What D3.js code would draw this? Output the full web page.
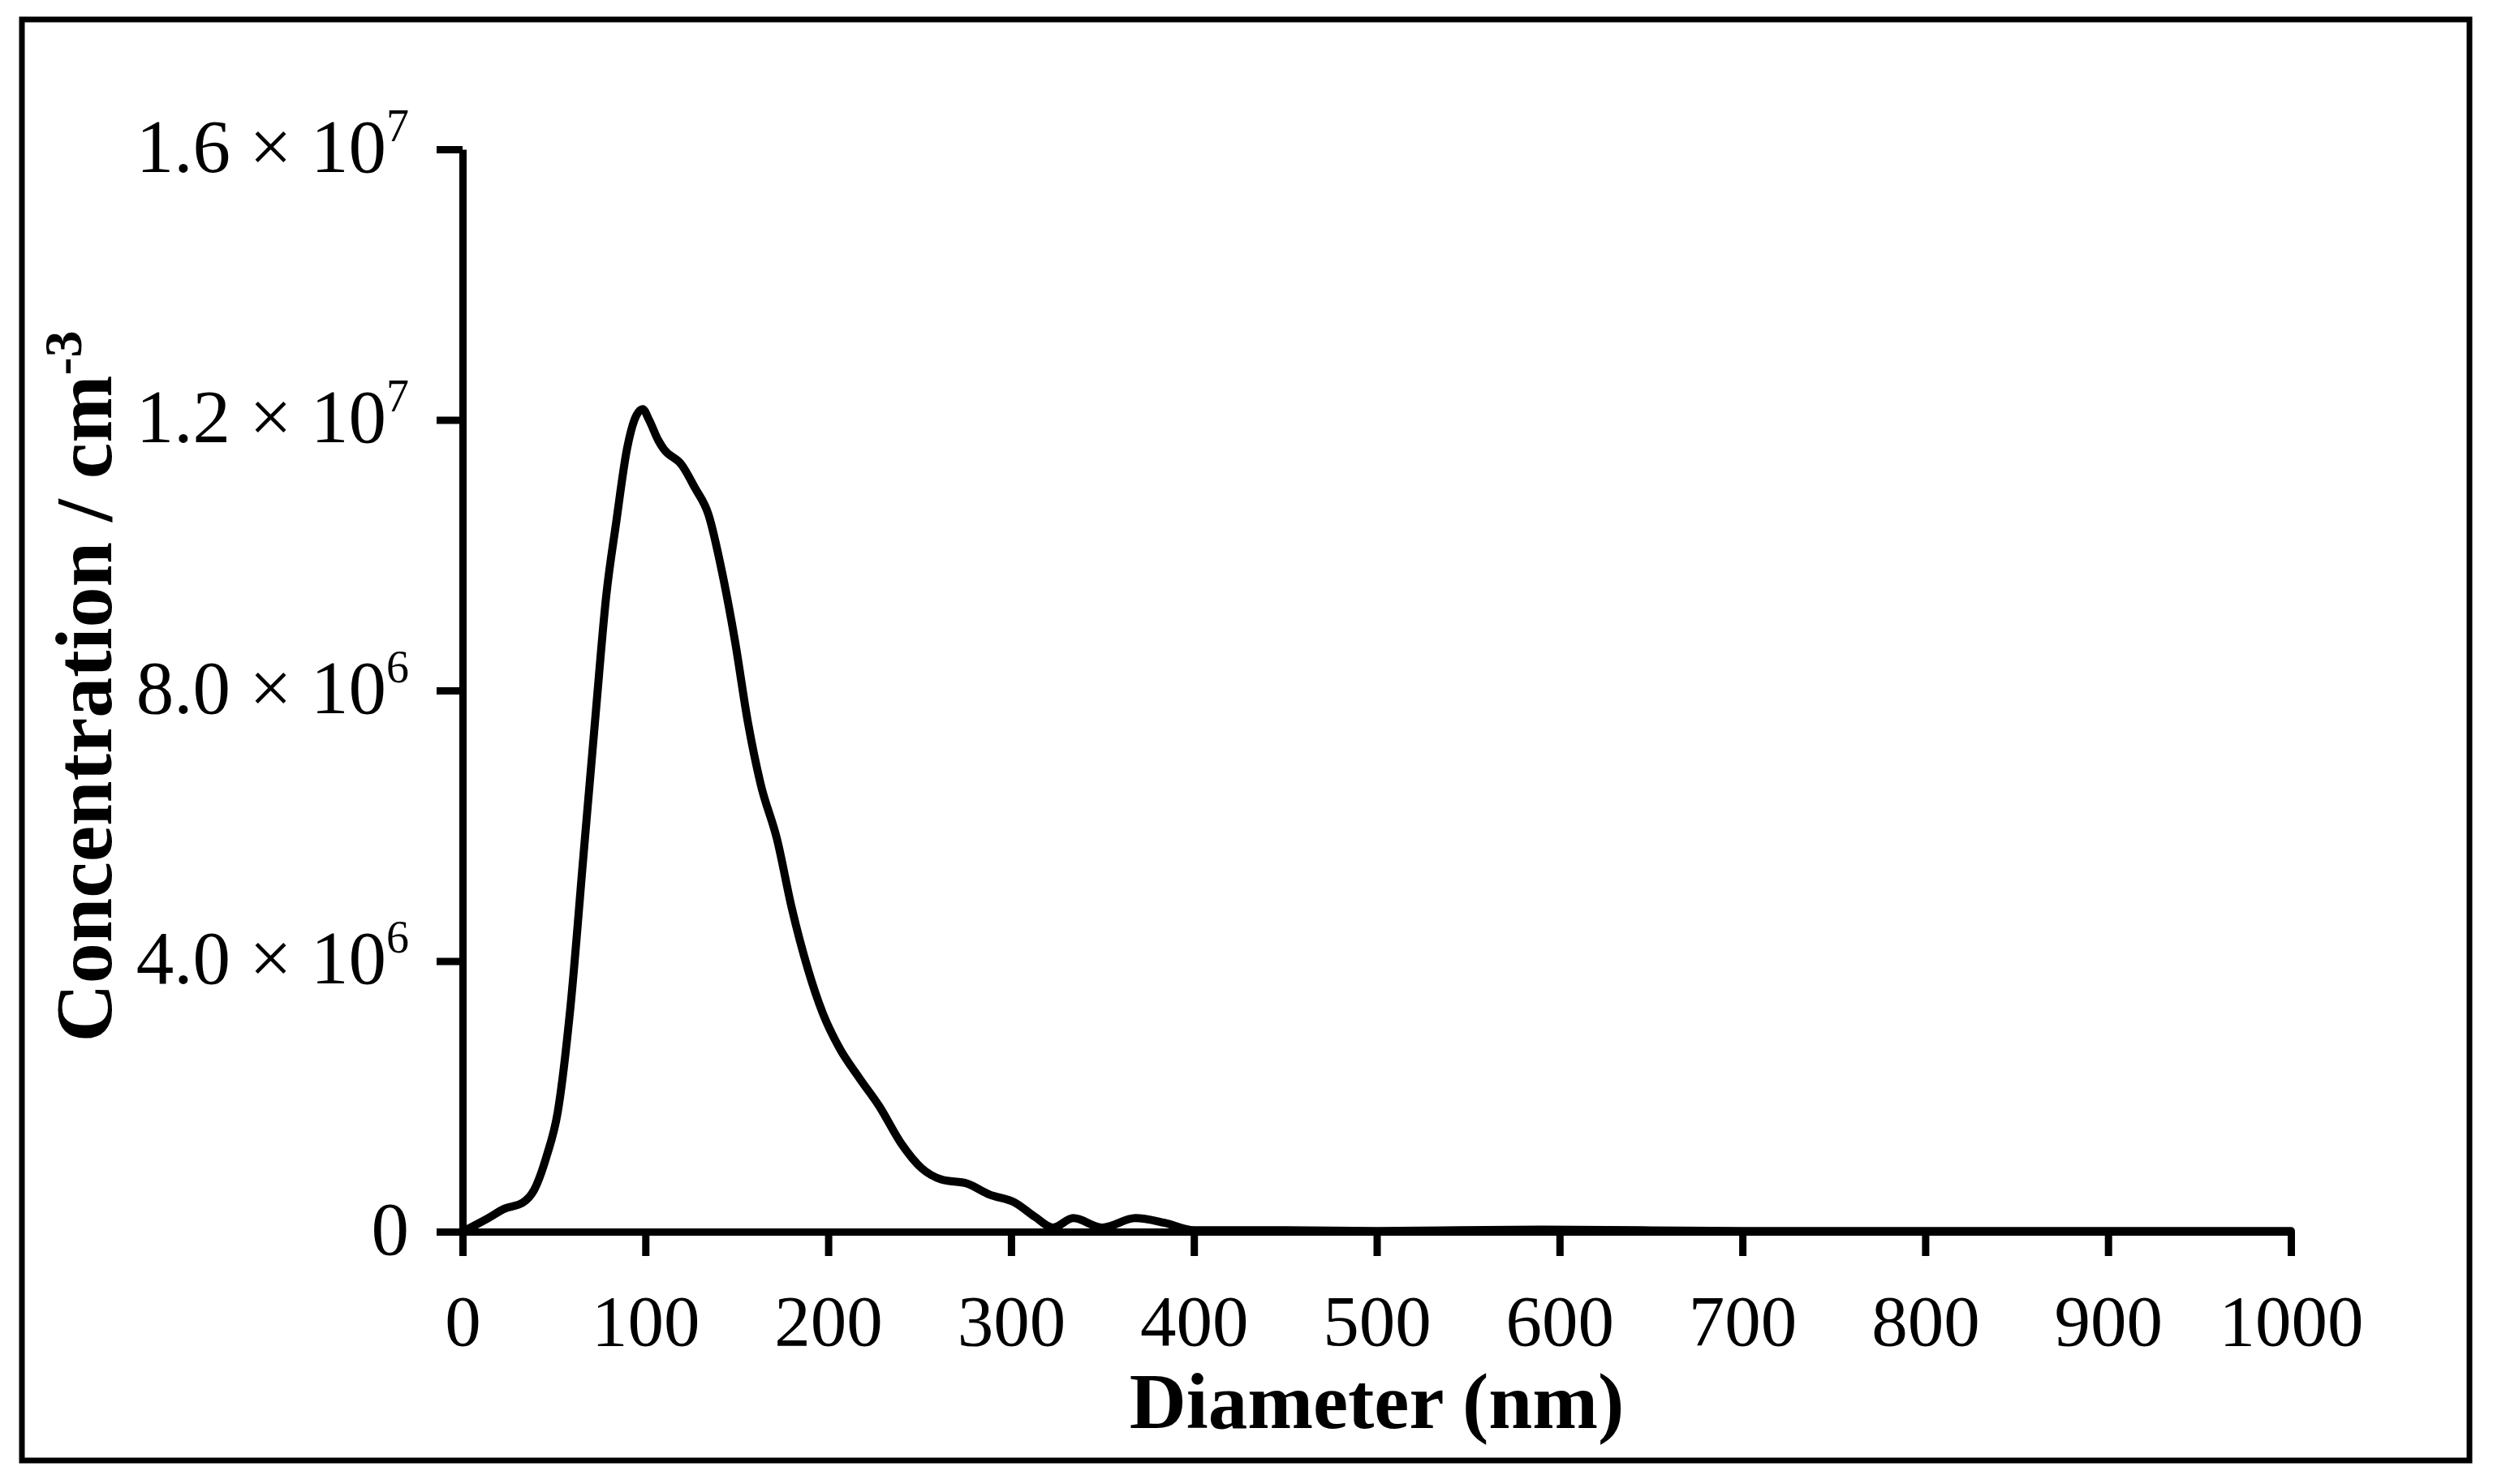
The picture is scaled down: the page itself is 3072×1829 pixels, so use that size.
<!DOCTYPE html>
<html lang="en">
<head>
  <meta charset="UTF-8">
  <title>Particle size distribution</title>
  <style>
    body { margin: 0; background: #fff; }
    .tick text { font-family: "Liberation Serif", "Times New Roman", serif; fill: #000; }
    .title { font-family: "Liberation Serif", "Times New Roman", serif; font-weight: bold; fill: #000; }
  </style>
</head>
<body>
  <div class="canvas"></div>
  <script src="https://d3js.org/d3.v7.min.js"></script>
  <script>
    // diameter (nm) and concentration (cm^-3)
    const diameter = [0, 14, 23, 33, 39, 46, 52, 59, 66, 73, 78.5, 84, 90, 94, 98.5, 102, 107, 110, 120, 127, 134.5, 142, 149, 156, 163, 172, 180, 189, 197, 206, 217, 228, 240, 251, 262, 276, 288, 302, 313, 323, 334, 350, 368, 384, 400, 450, 500, 590, 700, 800, 900, 1000];
    const concentration = [0, 0.20e6, 0.34e6, 0.43e6, 0.61e6, 1.12e6, 1.76e6, 3.32e6, 5.52e6, 7.72e6, 9.38e6, 10.48e6, 11.58e6, 12.0e6, 12.16e6, 12.0e6, 11.7e6, 11.57e6, 11.33e6, 11.0e6, 10.6e6, 9.74e6, 8.73e6, 7.54e6, 6.62e6, 5.80e6, 4.79e6, 3.87e6, 3.23e6, 2.72e6, 2.27e6, 1.85e6, 1.30e6, 0.94e6, 0.77e6, 0.71e6, 0.55e6, 0.43e6, 0.22e6, 0.06e6, 0.20e6, 0.06e6, 0.20e6, 0.13e6, 0.02e6, 0.02e6, 0.01e6, 0.03e6, 0.01e6, 0.01e6, 0.01e6, 0.01e6];

    const xTicks = [0, 100, 200, 300, 400, 500, 600, 700, 800, 900, 1000];
    const yTicks = [0, 4e6, 8e6, 1.2e7, 1.6e7];
    // mantissa / exponent pairs for the y tick labels
    const yMantissa = ['0', '4.0 × 10', '8.0 × 10', '1.2 × 10', '1.6 × 10'];
    const yExponent = ['', '6', '6', '7', '7'];

    const width = 3072;
    const height = 1829;
    const margin = {'top': 184, 'right': 249, 'bottom': 311, 'left': 570};
    const graphWidth = width - margin.left - margin.right;
    const graphHeight = height - margin.top - margin.bottom;

    const svg = d3.select('.canvas')
      .append('svg')
      .attr('width', width)
      .attr('height', height);

    svg.append('rect')
      .attr('x', 27).attr('y', 24)
      .attr('width', 3016).attr('height', 1776)
      .attr('fill', '#fff')
      .attr('stroke', '#000')
      .attr('stroke-width', 7);

    const graph = svg.append('g')
      .attr('transform', `translate(${margin.left}, ${margin.top})`);

    const x = d3.scaleLinear().domain([0, 1000]).range([0, graphWidth]);
    const y = d3.scaleLinear().domain([0, 1.6e7]).range([graphHeight, 0]);

    const xAxis = d3.axisBottom(x)
      .tickValues(xTicks)
      .tickSize(30)
      .tickSizeOuter(0)
      .tickFormat(d3.format('d'));

    const yAxis = d3.axisLeft(y)
      .tickValues(yTicks)
      .tickSize(32)
      .tickSizeOuter(0)
      .tickPadding(34)
      .tickFormat('');

    const gXAxis = graph.append('g')
      .attr('transform', `translate(0, ${graphHeight})`)
      .call(xAxis);

    const gYAxis = graph.append('g').call(yAxis);

    [gXAxis, gYAxis].forEach(g => {
      g.select('.domain').attr('stroke', '#000').attr('stroke-width', 9);
      g.selectAll('.tick line').attr('stroke', '#000').attr('stroke-width', 9);
    });

    gXAxis.selectAll('text')
      .attr('y', 140)
      .attr('dy', 0)
      .style('font-size', '89px');

    gYAxis.selectAll('.tick text')
      .attr('dy', 27)
      .style('font-size', '93px')
      .each(function (d, i) {
        const t = d3.select(this);
        t.append('tspan').text(yMantissa[i]);
        if (yExponent[i]) {
          t.append('tspan')
            .attr('dy', -38)
            .style('font-size', '56px')
            .text(yExponent[i]);
        }
      });

    const line = d3.line()
      .x(d => x(d[0]))
      .y(d => y(d[1]))
      .curve(d3.curveMonotoneX);

    graph.append('path')
      .datum(diameter.map((d, i) => [d, concentration[i]]))
      .attr('fill', 'none')
      .attr('stroke', '#000')
      .attr('stroke-width', 10)
      .attr('stroke-linejoin', 'round')
      .attr('stroke-linecap', 'round')
      .attr('d', line);

    svg.append('text')
      .attr('class', 'title')
      .attr('x', margin.left + graphWidth / 2)
      .attr('y', 1760)
      .attr('text-anchor', 'middle')
      .style('font-size', '97px')
      .text('Diameter (nm)');

    const yTitle = svg.append('text')
      .attr('class', 'title')
      .attr('transform', 'translate(137, 846) rotate(-90)')
      .attr('text-anchor', 'middle')
      .style('font-size', '100px');
    yTitle.append('tspan').text('Concentration / cm');
    yTitle.append('tspan')
      .attr('dy', -37)
      .style('font-size', '66px')
      .text('-3');
  </script>
</body>
</html>
